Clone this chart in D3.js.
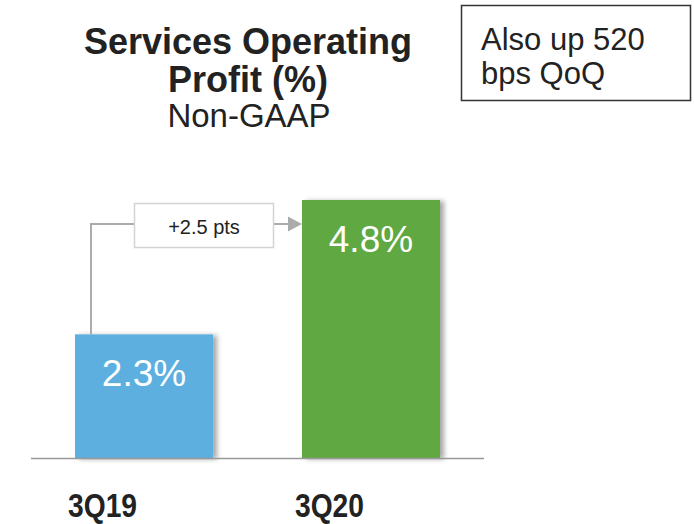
<!DOCTYPE html>
<html>
<head>
<meta charset="utf-8">
<title>Services Operating Profit</title>
<script src="https://cdn.jsdelivr.net/npm/d3@7"></script>
<style>
  body { margin: 0; background: #fff; }
  text { font-family: Arial, "Liberation Sans", sans-serif; }
</style>
</head>
<body>
<script>
// chart data
var quarters = ["3Q19", "3Q20"];
var values = [2.3, 4.8];
var colors = ["#5DAFE0", "#5EA843"];
var deltaLabel = "+2.5 pts";
var titleLines = ["Services Operating", "Profit (%)"];
var subtitle = "Non-GAAP";
var noteLines = ["Also up 520", "bps QoQ"];

var w = 694, h = 524;
var svg = d3.select("body").append("svg").attr("width", w).attr("height", h);

// drop shadow for bars
var defs = svg.append("defs");
var f = defs.append("filter").attr("id", "shadow").attr("x", "-10%").attr("y", "-10%").attr("width", "130%").attr("height", "120%");
f.append("feDropShadow").attr("dx", 4).attr("dy", 1).attr("stdDeviation", 2.5).attr("flood-color", "#000").attr("flood-opacity", 0.35);

var baseY = 458;
var x = d3.scaleBand().domain(quarters).range([31, 484]).paddingInner(0.392).paddingOuter(0.194);
var y = d3.scaleLinear().domain([0, 4.8]).range([baseY, 200]);

// bars
svg.selectAll("rect.bar")
  .data(values)
  .enter()
  .append("rect")
  .attr("class", "bar")
  .attr("x", function(d, i) { return x(quarters[i]); })
  .attr("y", function(d) { return y(d); })
  .attr("width", x.bandwidth())
  .attr("height", function(d) { return baseY - y(d); })
  .attr("fill", function(d, i) { return colors[i]; })
  .attr("filter", "url(#shadow)");

// baseline
svg.append("line").attr("x1", 31).attr("x2", 484).attr("y1", baseY + 0.5).attr("y2", baseY + 0.5)
  .attr("stroke", "#999").attr("stroke-width", 1.5);

// value labels in bars
svg.selectAll("text.val")
  .data(values)
  .enter()
  .append("text")
  .attr("class", "val")
  .attr("x", function(d, i) { return x(quarters[i]) + x.bandwidth() / 2; })
  .attr("y", function(d) { return y(d) + 52; })
  .attr("text-anchor", "middle")
  .attr("fill", "#fff")
  .style("font-size", "37px")
  .text(function(d) { return d.toFixed(1) + "%"; });

// category labels (condensed bold)
svg.selectAll("text.cat")
  .data(quarters)
  .enter()
  .append("text")
  .attr("class", "cat")
  .attr("x", function(d) { return x(d) - 7; })
  .attr("y", 517)
  .attr("fill", "#222")
  .attr("textLength", 69)
  .attr("lengthAdjust", "spacingAndGlyphs")
  .style("font-size", "33px")
  .style("font-weight", "bold")
  .text(function(d) { return d; });

// change bracket and arrow
var gray = "#ababab";
var x0 = x(quarters[0]) + 16, x1 = x(quarters[1]);
var arrowY = 224;
svg.append("path")
  .attr("d", "M" + x0 + "," + y(values[0]) + " V" + arrowY + " H" + 134)
  .attr("fill", "none").attr("stroke", gray).attr("stroke-width", 2);
svg.append("path")
  .attr("d", "M274," + arrowY + " H" + (x1 - 13))
  .attr("fill", "none").attr("stroke", gray).attr("stroke-width", 2);
svg.append("path")
  .attr("d", "M" + (x1 - 14) + "," + (arrowY - 7.5) + " L" + x1 + "," + arrowY + " L" + (x1 - 14) + "," + (arrowY + 7.5) + "Z")
  .attr("fill", gray);
svg.append("rect").attr("x", 134.5).attr("y", 203.5).attr("width", 139).attr("height", 44)
  .attr("fill", "#fff").attr("stroke", "#d4d4d4").attr("stroke-width", 1.5);
svg.append("text").attr("x", 204).attr("y", 234).attr("text-anchor", "middle")
  .attr("fill", "#222").style("font-size", "20px").text(deltaLabel);

// title
svg.selectAll("text.title")
  .data(titleLines)
  .enter()
  .append("text")
  .attr("class", "title")
  .attr("x", 248)
  .attr("y", function(d, i) { return 54 + i * 38; })
  .attr("text-anchor", "middle")
  .attr("fill", "#222")
  .style("font-size", "36px")
  .style("font-weight", "bold")
  .text(function(d) { return d; });
svg.append("text").attr("x", 249).attr("y", 127).attr("text-anchor", "middle")
  .attr("fill", "#222").style("font-size", "33px").text(subtitle);

// note box
svg.append("rect").attr("x", 461.5).attr("y", 5.5).attr("width", 229).attr("height", 95)
  .attr("fill", "none").attr("stroke", "#333").attr("stroke-width", 1.5);
svg.selectAll("text.note")
  .data(noteLines)
  .enter()
  .append("text")
  .attr("class", "note")
  .attr("x", 481)
  .attr("y", function(d, i) { return 50 + i * 34; })
  .attr("fill", "#222")
  .style("font-size", "31px")
  .text(function(d) { return d; });
</script>
</body>
</html>
